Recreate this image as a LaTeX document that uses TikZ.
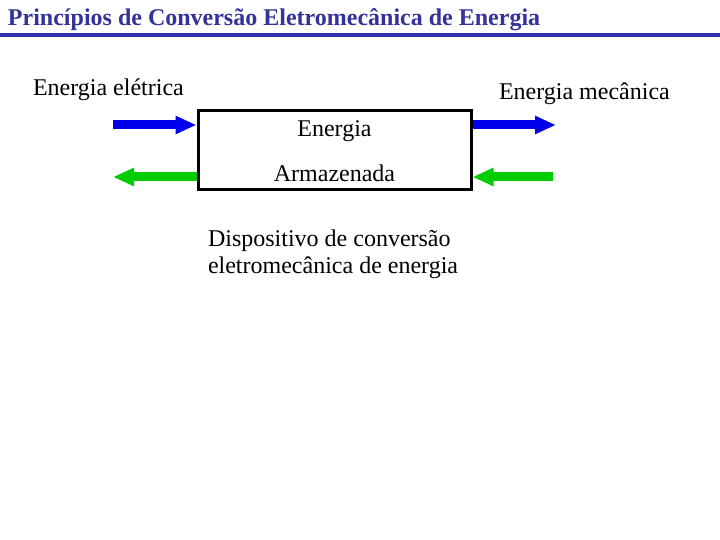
\documentclass[tikz,border=0pt]{standalone}
\usepackage{fontspec}
\setmainfont{Liberation Serif}
\usetikzlibrary{arrows.meta}
\definecolor{titleblue}{RGB}{51,51,153}
\definecolor{rulecol}{RGB}{51,51,170}
\definecolor{arrblue}{RGB}{0,0,235}
\definecolor{arrgreen}{RGB}{0,204,0}
\tikzset{
  txt/.style={inner sep=0pt, outer sep=0pt, font=\fontsize{24}{27}\selectfont},
  flow/.style={line width=9pt, -{Triangle[length=21pt,width=17pt]}},
  bluef/.style={flow, draw=arrblue},
  greenf/.style={flow, draw=arrgreen},
  device/.style={draw=black, line width=3pt, minimum width=273pt, minimum height=79pt, inner sep=0pt}
}
\begin{document}
\begin{tikzpicture}[x=1pt,y=-1pt]
\useasboundingbox[fill=white] (0,0) rectangle (720,540);
% title
\node[txt, anchor=base west, text=titleblue, font=\fontsize{24}{27}\selectfont\bfseries] (title) at (8,26) {Princípios de Conversão Eletromecânica de Energia};
\coordinate (ruleL) at (0,35);
\coordinate (ruleR) at (720,35);
\draw[rulecol, line width=4pt] (ruleL) -- (ruleR);
% box
\node[device] (box) at (334.5,150.5) {};
\node[txt, anchor=base] (t1) at (334.5,137) {Energia};
\node[txt, anchor=base] (t2) at (334.5,182) {Armazenada};
% labels
\node[txt, anchor=base west] (el) at (33,96) {Energia elétrica};
\node[txt, anchor=base west] (mec) at (499,100) {Energia mecânica};
\node[txt, anchor=base west] (dev1) at (208,246) {Dispositivo de conversão};
\node[txt, anchor=base west] (dev2) at (208,273) {eletromecânica de energia};
% arrows
\coordinate (eIn) at (113,125);
\coordinate (eOut) at (113,177);
\coordinate (mOut) at (556,125);
\coordinate (mIn) at (553,177);
\draw[bluef] (eIn) -- (eIn -| box.west);
\draw[greenf] (eOut -| box.west) -- (eOut);
\draw[bluef] (mOut -| box.east) -- (mOut);
\draw[greenf] (mIn) -- (mIn -| box.east);
\end{tikzpicture}
\end{document}
